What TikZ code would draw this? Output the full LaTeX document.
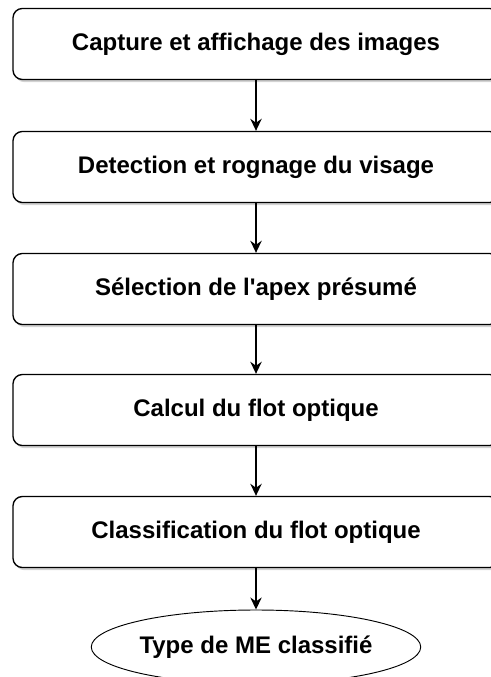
\documentclass[tikz,border=0pt]{standalone}
\usepackage{fontspec}
\setmainfont{Liberation Sans}
\usetikzlibrary{shapes.geometric,arrows.meta,shadows}

\begin{document}
\begin{tikzpicture}[x=0.75pt,y=-0.75pt,
        etape/.style={draw,line width=1pt,rounded corners=7pt,fill=white,minimum width=364.5pt,minimum height=53.25pt,
            drop shadow={shadow xshift=1.5pt,shadow yshift=-2pt,opacity=0.35}},
        sortie/.style={draw,ellipse,line width=0.7pt,minimum width=219.75pt,minimum height=55.5pt,inner sep=0pt},
        fleche/.style={line width=1.2pt,-{Stealth[length=9pt,width=8.5pt]}},
        font=\fontsize{18}{21}\selectfont\bfseries]
    \useasboundingbox (0,0) rectangle (490,677);
    \node[etape] (capture) at (256,44) {Capture et affichage des images};
    \node[etape] (detection) at (256,167) {Detection et rognage du visage};
    \node[etape] (apex) at (256,289) {Sélection de l\textquotesingle apex présumé};
    \node[etape] (flot) at (256,410) {Calcul du flot optique};
    \node[etape] (classif) at (256,532) {Classification du flot optique};
    \node[sortie] (type) at (256,647) {Type de ME classifié};
    \draw[fleche] (capture) -- (detection);
    \draw[fleche] (detection) -- (apex);
    \draw[fleche] (apex) -- (flot);
    \draw[fleche] (flot) -- (classif);
    \draw[fleche] (classif) -- (type);
\end{tikzpicture}
\end{document}
